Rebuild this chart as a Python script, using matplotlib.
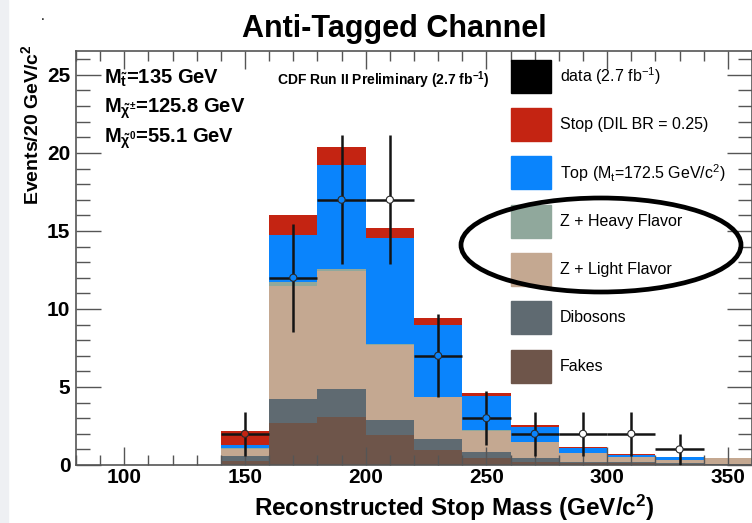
import numpy as np
import matplotlib
matplotlib.use("Agg")
import matplotlib.pyplot as plt
from matplotlib.patches import Rectangle, Ellipse
from matplotlib.ticker import MultipleLocator

plt.rcParams['font.family'] = ['Liberation Sans', 'DejaVu Sans']
plt.rcParams['mathtext.fontset'] = 'custom'
plt.rcParams['mathtext.rm'] = 'Liberation Sans:bold'
plt.rcParams['mathtext.it'] = 'Liberation Sans:bold'
plt.rcParams['mathtext.bf'] = 'Liberation Sans:bold'

# histogram bins (GeV/c^2), 20 GeV wide
bin_left = [140, 160, 180, 200, 220, 240, 260, 280, 300, 320, 340]

# stacked backgrounds, bottom to top
fakes = [0.25, 2.7, 3.1, 1.9, 0.96, 0.43, 0.2, 0.1, 0.12, 0.05, 0.03]
dibosons = [0.3, 1.5, 1.8, 1.0, 0.7, 0.42, 0.27, 0.12, 0.08, 0.07, 0.03]
z_light = [0.5, 7.3, 7.55, 4.8, 2.67, 1.35, 0.98, 0.53, 0.3, 0.2, 0.37]
z_heavy = [0.02, 0.25, 0.1, 0.05, 0.02, 0.02, 0.01, 0.01, 0.01, 0.0, 0.0]
top = [0.2, 3.0, 6.7, 6.8, 4.65, 2.2, 0.96, 0.34, 0.13, 0.17, 0.01]
stop = [0.9, 1.3, 1.1, 0.62, 0.4, 0.22, 0.13, 0.08, 0.04, 0.02, 0.0]

# observed events
data_x = [150, 170, 190, 210, 230, 250, 270, 290, 310, 330]
data_n = [2, 12, 17, 17, 7, 3, 2, 2, 2, 1]

names = ["data (2.7 fb$^{\\mathregular{-1}}$)", "Stop (DIL BR = 0.25)",
         "Top (M$_{\\mathregular{t}}$=172.5 GeV/c$^{\\mathregular{2}}$)",
         "Z + Heavy Flavor", "Z + Light Flavor", "Dibosons", "Fakes"]
colors = ["black", "#c42412", "#0a84fc", "#90a89c", "#c4a891", "#5f6a71", "#6e554a"]

W, H = 752, 523
fig = plt.figure(figsize=(W / 100, H / 100), dpi=100)


def fx(x):
    return x / W


def fy(y):
    return 1 - y / H


# faint strip at the left edge
fig.patches.append(Rectangle((0, 0), fx(8), 1, transform=fig.transFigure,
                             color="#eef0f3", zorder=0))

ax = fig.add_axes([fx(76), fy(465), fx(752 - 76), fy(50.7) - fy(465)])

stack = [fakes, dibosons, z_light, z_heavy, top, stop]
stack_cols = [colors[6], colors[5], colors[4], colors[3], colors[2], colors[1]]
base = np.zeros(len(bin_left))
tops = []
for vals, c in zip(stack, stack_cols):
    ax.bar(bin_left, vals, width=20, bottom=base, align='edge', color=c,
           linewidth=0, zorder=1)
    base += np.array(vals)
    tops.append(base.copy())

err = np.sqrt(data_n)
ax.errorbar(data_x, data_n, yerr=err, xerr=10, fmt='none', ecolor='#141414',
            elinewidth=1.8, capsize=0, zorder=3)

# open markers show whatever fill sits behind them
face = []
for x, n in zip(data_x, data_n):
    i = bin_left.index(x - 10)
    fc = "white"
    for t, c in zip(tops, stack_cols):
        if n < t[i]:
            fc = c
            break
    face.append(fc)
ax.scatter(data_x, data_n, s=26, c=face, edgecolors='#2a2a2a', linewidths=0.8,
           zorder=4)

ax.set_xlim(80, 360)
ax.set_ylim(0, 26.55)
ax.xaxis.set_major_locator(MultipleLocator(50))
ax.xaxis.set_minor_locator(MultipleLocator(10))
ax.yaxis.set_major_locator(MultipleLocator(5))
ax.yaxis.set_minor_locator(MultipleLocator(1))
ax.tick_params(which='both', direction='in', top=True, right=True,
               color='#555555', width=1.0, labelsize=15)
ax.tick_params(axis='y', which='major', length=18, pad=4)
ax.tick_params(axis='y', which='minor', length=10)
ax.tick_params(axis='x', which='major', length=13, pad=2)
ax.tick_params(axis='x', which='minor', length=7)
for lab in ax.get_xticklabels() + ax.get_yticklabels():
    lab.set_fontweight('bold')
for sp in ax.spines.values():
    sp.set_color('#555555')
    sp.set_linewidth(1.2)

# axis titles
fig.text(fx(394), fy(36.7), "Anti-Tagged Channel", fontsize=22,
         fontweight='bold', ha='center', va='baseline')
fig.text(fx(454), fy(516), "Reconstructed Stop Mass (GeV/c$^{\\mathregular{2}}$)",
         fontsize=17.5, fontweight='bold', ha='center', va='baseline')
fig.text(fx(31), fy(44), "Events/20 GeV/c$^{\\mathregular{2}}$", fontsize=14,
         fontweight='bold', rotation=90, ha='center', va='top')
fig.text(fx(43), fy(20), ".", fontsize=10, ha='center', va='baseline')

# mass point
masses = ["M$_{\\tilde{t}}$=135 GeV", "M$_{\\tilde{\\chi}^{\\pm}}$=125.8 GeV",
          "M$_{\\tilde{\\chi}^{0}}$=55.1 GeV"]
for i, s in enumerate(masses):
    fig.text(fx(104), fy(83.3 + 29.5 * i), s, fontsize=14.5,
             fontweight='bold', ha='left', va='baseline')
fig.text(fx(277), fy(85), "CDF Run II Preliminary (2.7 fb$^{\\mathregular{-1}}$)",
         fontsize=10, fontweight='bold', ha='left', va='baseline')

# legend boxes
for i, (name, c) in enumerate(zip(names, colors)):
    yc = 76.3 + 48.3 * i
    fig.patches.append(Rectangle((fx(511), fy(yc + 16.5)), fx(40), fy(0) - fy(33),
                                 transform=fig.transFigure, color=c, zorder=2))
    fig.text(fx(560), fy(yc), name, fontsize=11.5, ha='left', va='center',
             family=['Liberation Sans', 'DejaVu Sans'])

# ring around the Z entries
fig.patches.append(Ellipse((fx(601), fy(245)), fx(280), fy(0) - fy(94),
                           transform=fig.transFigure, fill=False,
                           edgecolor='black', linewidth=3.4, zorder=4))

fig.savefig("out.png", dpi=100)
